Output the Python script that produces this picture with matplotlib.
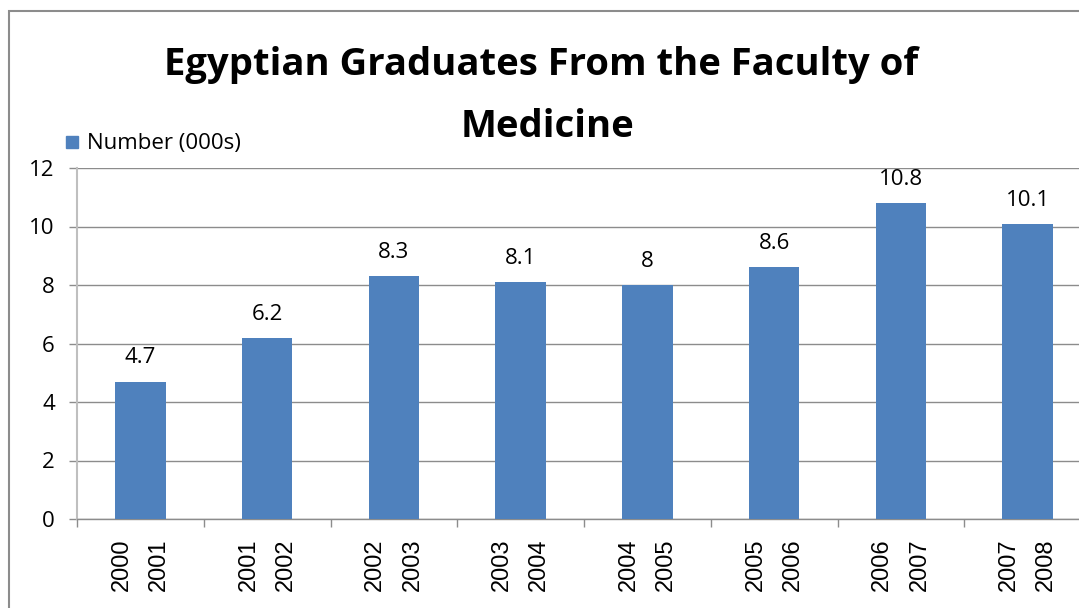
import matplotlib
matplotlib.use('Agg')
import matplotlib.pyplot as plt
from matplotlib.patches import Rectangle
import numpy as np

plt.rcParams['font.family'] = ['Open Sans', 'DejaVu Sans']

# data
PERIODOS = ['2000\n2001', '2001\n2002', '2002\n2003', '2003\n2004',
            '2004\n2005', '2005\n2006', '2006\n2007', '2007\n2008']
NUMERO = [4.7, 6.2, 8.3, 8.1, 8, 8.6, 10.8, 10.1]
ETIQUETAS = ['4.7', '6.2', '8.3', '8.1', '8', '8.6', '10.8', '10.1']
Y_TICKS = [0, 2, 4, 6, 8, 10, 12]

W, H = 1079, 608
fig = plt.figure(figsize=(W / 100, H / 100), dpi=100)

# plot area (right edge runs past the image, as in the reference)
ax = fig.add_axes([77 / W, 1 - 519 / H, (1091 - 77) / W, (519 - 168) / H])

x = np.arange(len(NUMERO))
ax.bar(x, NUMERO, width=0.40, color='#4F81BD', zorder=3)
for xi, v, t in zip(x, NUMERO, ETIQUETAS):
    ax.annotate(t, (xi, v), xytext=(0, 13), textcoords='offset points',
                ha='center', va='baseline', fontsize=16, color='black')

ax.set_xlim(-0.5, len(NUMERO) - 0.5)
ax.set_ylim(0, 12)
ax.set_yticks(Y_TICKS)
ax.yaxis.grid(True, color='#8c8c8c', lw=1.0, zorder=0)
ax.tick_params(axis='y', labelsize=16, length=6, width=1, color='#8c8c8c', pad=10)

ax.set_xticks(x)
ax.set_xticklabels(PERIODOS, rotation=90, fontsize=17,
                   family=['Liberation Sans', 'DejaVu Sans'], linespacing=1.9)
ax.tick_params(axis='x', which='major', length=0, pad=14)
ax.set_xticks(np.arange(len(NUMERO) + 1) - 0.5, minor=True)
ax.tick_params(axis='x', which='minor', length=6, width=1, color='#8c8c8c')

for s in ['top', 'right']:
    ax.spines[s].set_visible(False)
ax.spines['left'].set_color('#bfbfbf')
ax.spines['left'].set_linewidth(1.5)
ax.spines['bottom'].set_color('#8c8c8c')
ax.spines['bottom'].set_linewidth(1.0)

# title
fig.text(541 / W, 1 - 75 / H, 'Egyptian Graduates From the Faculty of',
         ha='center', va='baseline', fontsize=27.5, fontweight='bold')
fig.text(547 / W, 1 - 137 / H, 'Medicine',
         ha='center', va='baseline', fontsize=27.5, fontweight='bold')

# legend
fig.patches.append(Rectangle((66 / W, 1 - 148 / H), 12 / W, 12 / H,
                             transform=fig.transFigure, color='#4F81BD'))
fig.text(87 / W, 1 - 143 / H, 'Number (000s)', ha='left', va='center', fontsize=16)

# chart border (cut off at right and bottom)
fig.patches.append(Rectangle((9 / W, -0.1), 1.2, 1.1 - 11 / H, transform=fig.transFigure,
                             fill=False, edgecolor='#8c8c8c', lw=1.5))

fig.savefig('out.png', dpi=100)
